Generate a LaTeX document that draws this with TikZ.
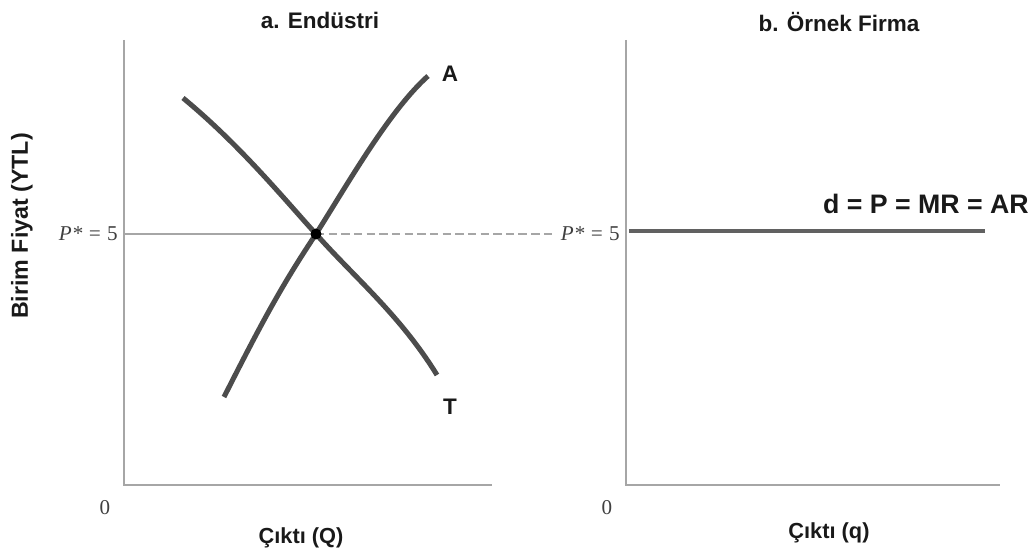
\documentclass[tikz,border=0pt]{standalone}
\usepackage{fontspec}
\setmainfont{Liberation Sans}
\newfontfamily\serifp{Liberation Serif}
\begin{document}
\begin{tikzpicture}[
			x=0.025cm, y=-0.025cm,
			axis/.style={draw=black!35, line width=1.2pt},
			curve/.style={draw=black!70, line width=3.6pt},
			guide/.style={draw=black!35, line width=0.9pt},
			lab/.style={font=\bfseries\fontsize{16}{18}\selectfont, text=black!90, inner sep=0pt},
			plab/.style={font=\serifp\itshape\fontsize{15}{17}\selectfont, text=black!75, inner sep=0pt}
		]
		\useasboundingbox (0,0) rectangle (1033,557);
		% Eksenler
		\coordinate (oa) at (124,485);
		\coordinate (ob) at (626,485);
		\draw[axis] (124,40) -- (oa) -- (492,485);
		\draw[axis] (626,40) -- (ob) -- (1000,485);

		% Basliklar
		\node[lab] (titlea) at (320,20) {a. Endüstri};
		\node[lab] (titleb) at (839,22) {b. Örnek Firma};
		\node[lab, rotate=90, font=\bfseries\fontsize{16.5}{18}\selectfont] (ylab) at (22,226) {Birim Fiyat (YTL)};
		\node[lab, font=\bfseries\fontsize{15.5}{18}\selectfont] (xlaba) at (301,538) {Çıktı (Q)};
		\node[lab, font=\bfseries\fontsize{15.5}{18}\selectfont] (xlabb) at (829,533) {Çıktı (q)};
		\node[plab, font=\serifp\fontsize{15}{17}\selectfont] (zeroa) at (105,508) {0};
		\node[plab, font=\serifp\fontsize{15}{17}\selectfont] (zerob) at (607,508) {0};

		% Denge
		\coordinate (eq) at (316,234);
		\node[plab, anchor=east] (pa) at (118,234) {P* = \upshape 5};
		\node[plab, anchor=east] (pb) at (620,234) {P* = \upshape 5};
		\draw[guide] (pa.east) ++(6,0) -- (eq);
		\draw[guide, dashed, dash pattern=on 6pt off 3pt] (eq) -- ([xshift=-4pt]pb.west);

		% Egriler
		\coordinate (a0) at (224,397);
		\coordinate (a1) at (428,76);
		\coordinate (t0) at (183,98);
		\coordinate (t1) at (437,375);
		\draw[curve] (a0) .. controls (262,322) and (282,285) .. (eq)
			.. controls (350,180) and (390,110) .. (a1);
		\draw[curve] (t0) .. controls (240,145) and (285,200) .. (eq)
			.. controls (355,278) and (400,315) .. (t1);
		\fill (eq) circle (5.5);
		\node[lab] (la) at (450,74) {A};
		\node[lab] (lt) at (450,407) {T};

		% Firma
		\coordinate (d0) at (629,231);
		\coordinate (d1) at (985,231);
		\draw[curve, line width=3.4pt, draw=black!62] (d0) -- (d1);
		\node[lab, font=\bfseries\fontsize{19}{21}\selectfont] (ld) at (926,204) {d = P = MR = AR};
	\end{tikzpicture}
\end{document}
